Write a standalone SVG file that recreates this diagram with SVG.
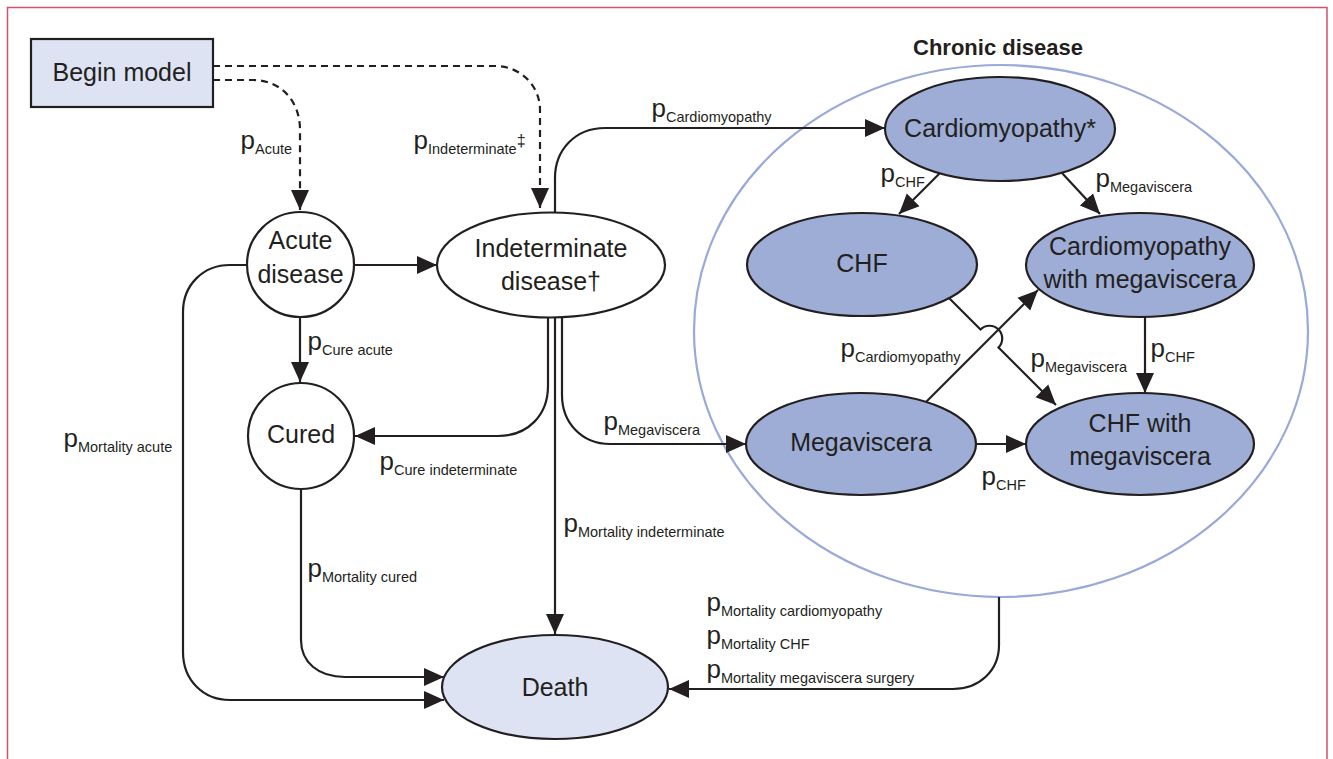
<svg xmlns="http://www.w3.org/2000/svg" width="1333" height="759" viewBox="0 0 1333 759">
<style>
.nt{font-family:"Liberation Sans",Arial,sans-serif;font-size:25px;fill:#231f20;text-anchor:middle}
.title{font-family:"Liberation Sans",Arial,sans-serif;font-size:22px;font-weight:bold;fill:#231f20;text-anchor:middle}
.lbl{font-family:"Liberation Sans",Arial,sans-serif;font-size:26px;fill:#231f20}
.sub{font-size:14.5px}
.sup{font-size:16px}
.node{stroke:#231f20;stroke-width:2.2}
.white{fill:#ffffff}
.light{fill:#dde3f2}
.dark{fill:#9dadd6}
.conn{fill:none;stroke:#231f20;stroke-width:2.2}
.dash{stroke-dasharray:7 5}
</style>
<defs>
<marker id="ah" markerUnits="userSpaceOnUse" markerWidth="20" markerHeight="20" viewBox="0 0 20 20" refX="20" refY="10" orient="auto">
<path d="M0,1 L20,10 L0,19 Z" fill="#231f20"/>
</marker>
</defs>
<rect width="1333" height="759" fill="#ffffff"/>
<path d="M7.5,759 V7.5 H1327 V759" fill="none" stroke="#d4506e" stroke-width="1.5"/>

<g id="chronic-disease">
<ellipse cx="1001" cy="331" rx="307" ry="266" fill="none" stroke="#9aaad8" stroke-width="2.2"/>
<text class="title" x="998" y="55">Chronic disease</text>
</g>

<g id="connectors">
<path class="conn dash" d="M213,80 H253 C280,80 300,100 300,130 V210" marker-end="url(#ah)"/>
<path class="conn dash" d="M213,66 H495 C520,66 540,85 540,110 V208" marker-end="url(#ah)"/>
<path class="conn" d="M354,265 H437" marker-end="url(#ah)"/>
<path class="conn" d="M300,317 V382" marker-end="url(#ah)"/>
<path class="conn" d="M247,265 H230 C203,265 183,285 183,312 V652 C183,680 203,700 230,700 H444" marker-end="url(#ah)"/>
<path class="conn" d="M301,489 V640 C301,662 318,677 345,677 H444" marker-end="url(#ah)"/>
<path class="conn" d="M548,318 V386 C548,415 528,436 498,436 H355" marker-end="url(#ah)"/>
<path class="conn" d="M555,318 V634" marker-end="url(#ah)"/>
<path class="conn" d="M562,318 V395 C562,423 582,444 610,444 H746" marker-end="url(#ah)"/>
<path class="conn" d="M555,212 V178 C555,150 575,128 605,128 H885" marker-end="url(#ah)"/>
<path class="conn" d="M940,173 L899,214" marker-end="url(#ah)"/>
<path class="conn" d="M1062,173 L1100,214" marker-end="url(#ah)"/>
<path class="conn" d="M948,297 L980.5,329.5 A12.7,12.7 0 0 1 998.5,347.5 L1056,405" marker-end="url(#ah)"/>
<path class="conn" d="M926,402 L1038,290" marker-end="url(#ah)"/>
<path class="conn" d="M1145,317 V393" marker-end="url(#ah)"/>
<path class="conn" d="M976,444 H1026" marker-end="url(#ah)"/>
<path class="conn" d="M999,597 V645 C999,671 979,689 953,689 H669" marker-end="url(#ah)"/>
</g>

<g id="labels">
<text class="lbl" x="240.5" y="149">p<tspan class="sub" dy="5">Acute</tspan></text>
<text class="lbl" x="413.5" y="149">p<tspan class="sub" dy="5">Indeterminate</tspan><tspan class="sup" dy="-8">‡</tspan></text>
<text class="lbl" x="651.5" y="117">p<tspan class="sub" dy="5">Cardiomyopathy</tspan></text>
<text class="lbl" x="880.5" y="182">p<tspan class="sub" dy="5">CHF</tspan></text>
<text class="lbl" x="1095.5" y="187">p<tspan class="sub" dy="5">Megaviscera</tspan></text>
<text class="lbl" x="307.5" y="350">p<tspan class="sub" dy="5">Cure acute</tspan></text>
<text class="lbl" x="840.5" y="357">p<tspan class="sub" dy="5">Cardiomyopathy</tspan></text>
<text class="lbl" x="1030.5" y="367">p<tspan class="sub" dy="5">Megaviscera</tspan></text>
<text class="lbl" x="1150.5" y="357">p<tspan class="sub" dy="5">CHF</tspan></text>
<text class="lbl" x="603.5" y="430">p<tspan class="sub" dy="5">Megaviscera</tspan></text>
<text class="lbl" x="63.5" y="447">p<tspan class="sub" dy="5">Mortality acute</tspan></text>
<text class="lbl" x="379.5" y="470">p<tspan class="sub" dy="5">Cure indeterminate</tspan></text>
<text class="lbl" x="981.5" y="485">p<tspan class="sub" dy="5">CHF</tspan></text>
<text class="lbl" x="563.5" y="532">p<tspan class="sub" dy="5">Mortality indeterminate</tspan></text>
<text class="lbl" x="307.5" y="577">p<tspan class="sub" dy="5">Mortality cured</tspan></text>
<text class="lbl" x="706.5" y="611">p<tspan class="sub" dy="5">Mortality cardiomyopathy</tspan></text>
<text class="lbl" x="706.5" y="644">p<tspan class="sub" dy="5">Mortality CHF</tspan></text>
<text class="lbl" x="706.5" y="678">p<tspan class="sub" dy="5">Mortality megaviscera surgery</tspan></text>
</g>

<g id="begin-model">
<rect class="node light" x="31" y="39" width="182" height="68"/>
<text class="nt" x="122" y="81">Begin model</text>
</g>
<g id="acute-disease">
<ellipse class="node white" cx="300.5" cy="264.5" rx="53.5" ry="52.5"/>
<text class="nt" x="300.5" y="249">Acute</text>
<text class="nt" x="300.5" y="283">disease</text>
</g>
<g id="indeterminate-disease">
<ellipse class="node white" cx="551" cy="265" rx="114" ry="52.5"/>
<text class="nt" x="551" y="257">Indeterminate</text>
<text class="nt" x="551" y="290">disease†</text>
</g>
<g id="cured">
<ellipse class="node white" cx="301" cy="436" rx="53" ry="53"/>
<text class="nt" x="301" y="443">Cured</text>
</g>
<g id="death">
<ellipse class="node light" cx="555" cy="687" rx="113" ry="52"/>
<text class="nt" x="555" y="696">Death</text>
</g>
<g id="cardiomyopathy">
<ellipse class="node dark" cx="1000" cy="129" rx="115" ry="52"/>
<text class="nt" x="1000" y="137">Cardiomyopathy*</text>
</g>
<g id="chf">
<ellipse class="node dark" cx="862" cy="264.5" rx="115" ry="51.5"/>
<text class="nt" x="862" y="272">CHF</text>
</g>
<g id="cardiomyopathy-with-megaviscera">
<ellipse class="node dark" cx="1140" cy="265" rx="114" ry="52"/>
<text class="nt" x="1140" y="255">Cardiomyopathy</text>
<text class="nt" x="1140" y="288">with megaviscera</text>
</g>
<g id="megaviscera">
<ellipse class="node dark" cx="861" cy="444" rx="115" ry="51"/>
<text class="nt" x="861" y="451">Megaviscera</text>
</g>
<g id="chf-with-megaviscera">
<ellipse class="node dark" cx="1140" cy="444" rx="114" ry="51"/>
<text class="nt" x="1140" y="432">CHF with</text>
<text class="nt" x="1140" y="465">megaviscera</text>
</g>
</svg>
